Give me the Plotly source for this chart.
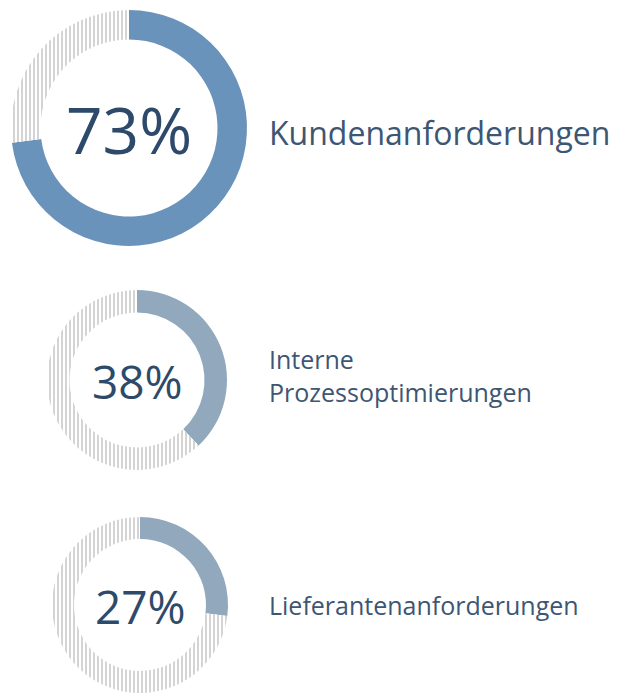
import plotly.graph_objects as go

values = [73, 38, 27]
labels = ["Kundenanforderungen", "Interne\nProzessoptimierungen", "Lieferantenanforderungen"]
colors = ["#6A93BB", "#92A8BC", "#92A8BC"]

W, H = 628, 694
OFF = 8  # page body margin
# layout: center (px, page coords), outer radius (px), percent font, label font
centers = [(129, 128), (137, 380), (140, 605)]
radii = [118, 90, 88]
pct_fonts = [64, 46, 46]
lbl_fonts = [32, 25, 25]
lbl_dy = [5, -5, 0]
text_color = "#2E4A6A"
label_color = "#3D5672"

fig = go.Figure()
annotations = []
for i, v in enumerate(values):
    cx, cy, r = centers[i][0] - OFF, centers[i][1] - OFF, radii[i]
    dom_x = [(cx - r) / W, (cx + r) / W]
    dom_y = [max(0, (H - (cy + r)) / H), min(1, (H - (cy - r)) / H)]
    fig.add_trace(go.Pie(
        values=[v, 100 - v],
        labels=["a", "b"],
        sort=False,
        direction="clockwise",
        rotation=0,
        hole=0.75,
        domain=dict(x=dom_x, y=dom_y),
        textinfo="none",
        hoverinfo="skip",
        showlegend=False,
        marker=dict(
            colors=[colors[i], "white"],
            line=dict(width=0),
            pattern=dict(shape=["", "|"], fgcolor=[colors[i], "#D4D4D4"],
                         bgcolor=[colors[i], "white"], size=4, solidity=0.5,
                         fillmode="replace"),
        ),
    ))
    annotations.append(dict(
        x=cx / W, y=1 - (cy + 1) / H, xref="paper", yref="paper",
        text=f"{v}%", showarrow=False, xanchor="center", yanchor="middle",
        font=dict(family="Open Sans", size=pct_fonts[i], color=text_color),
    ))
    lines = labels[i].split("\n")
    n = len(lines)
    lh = lbl_fonts[i] * 1.32
    for j, line in enumerate(lines):
        ly = cy + lbl_dy[i] + (j - (n - 1) / 2) * lh
        annotations.append(dict(
            x=(270 - OFF) / W, y=1 - ly / H, xref="paper", yref="paper",
            text=line, showarrow=False, xanchor="left", yanchor="middle",
            xshift=-3,
            font=dict(family="Open Sans", size=lbl_fonts[i], color=label_color),
        ))

fig.update_layout(
    width=W, height=H,
    margin=dict(l=0, r=0, t=0, b=0),
    paper_bgcolor="white", plot_bgcolor="white",
    annotations=annotations,
)
fig.write_html("out.html")
